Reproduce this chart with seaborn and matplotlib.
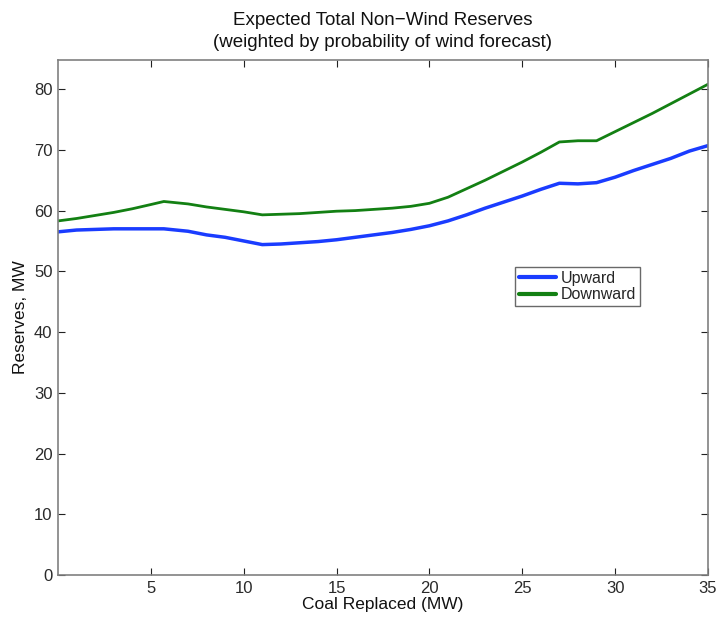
import matplotlib
matplotlib.use("Agg")
import matplotlib.pyplot as plt
import seaborn as sns
import pandas as pd

x_vals = [0, 1, 2, 3, 4, 5, 5.7, 7, 8, 9, 10, 11, 12, 13, 14, 15, 16, 17, 18, 19, 20, 20.5,
          21, 22, 23, 24, 25, 26, 27, 28, 29, 30, 31, 32, 33, 34, 35]
upward = [56.5, 56.8, 56.9, 57.0, 57.0, 57.0, 57.0, 56.6, 56.0, 55.6, 55.0, 54.4, 54.5, 54.7, 54.9, 55.2,
          55.6, 56.0, 56.4, 56.9, 57.5, 57.9, 58.3, 59.3, 60.4, 61.4, 62.4, 63.5, 64.5, 64.4, 64.6,
          65.5, 66.6, 67.6, 68.6, 69.8, 70.7]
downward = [58.3, 58.7, 59.2, 59.7, 60.3, 61.0, 61.5, 61.1, 60.6, 60.2, 59.8, 59.3, 59.4, 59.5, 59.7, 59.9,
            60.0, 60.2, 60.4, 60.7, 61.2, 61.7, 62.2, 63.6, 65.0, 66.5, 68.0, 69.6, 71.3, 71.5, 71.5,
            73.0, 74.5, 76.0, 77.6, 79.2, 80.8]
series_names = ["Upward", "Downward"]
series_colors = ["#1a3cff", "#138013"]
x_ticks = [5, 10, 15, 20, 25, 30, 35]
y_ticks = [0, 10, 20, 30, 40, 50, 60, 70, 80]

df = pd.DataFrame({
    "x": x_vals * 2,
    "y": upward + downward,
    "series": [series_names[0]] * len(x_vals) + [series_names[1]] * len(x_vals),
})

sns.set_theme(style="white")
plt.rcParams["font.family"] = ["Liberation Sans", "DejaVu Sans"]

fig = plt.figure(figsize=(7.17, 6.19), dpi=100)
ax = fig.add_axes([0.0809, 0.0711, 0.9065, 0.832])

sns.lineplot(data=df, x="x", y="y", hue="series", palette=series_colors,
             linewidth=2, ax=ax, legend=True)
ax.get_lines()[0].set_linewidth(2.5)

ax.set_xlim(0, 35)
ax.set_ylim(0, 84.8)
ax.set_xticks(x_ticks)
ax.set_yticks(y_ticks)
ax.tick_params(direction="in", length=5, width=0.8, color="#222222",
               labelsize=12, labelcolor="#2a2a2a", top=True, right=True,
               bottom=True, left=True, pad=4)
for s in ax.spines.values():
    s.set_color("#808080")
    s.set_linewidth(1.2)

ax.set_xlabel("Coal Replaced (MW)", fontsize=12.5, color="#111111", labelpad=1)
ax.set_ylabel("Reserves, MW", fontsize=12.5, color="#111111", labelpad=4)
ax.set_title("Expected Total Non\u2212Wind Reserves\n(weighted by probability of wind forecast)",
             fontsize=13.5, color="#111111", pad=9, linespacing=1.4)

leg = ax.legend(loc="lower left", bbox_to_anchor=(0.703, 0.522), frameon=True,
                fancybox=False, fontsize=11.5, handlelength=2.3, handletextpad=0.3,
                borderpad=0.25, labelspacing=0.1, borderaxespad=0)
leg.get_frame().set_edgecolor("#444444")
leg.get_frame().set_linewidth(1.0)
for line in leg.get_lines():
    line.set_linewidth(3)

fig.savefig("out.png", dpi=100)
